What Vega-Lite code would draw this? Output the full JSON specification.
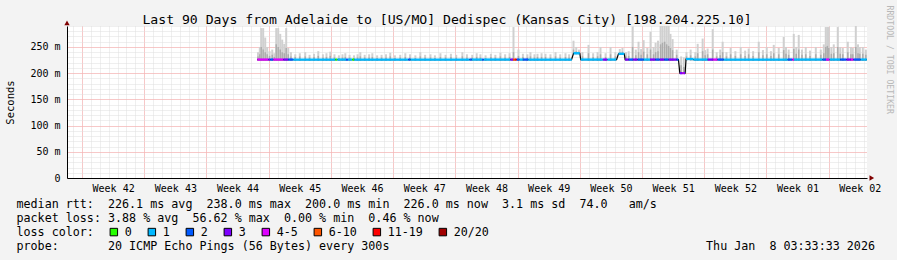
{
"$schema": "https://vega.github.io/schema/vega-lite/v6.json",
"width": 800, "height": 152,
"autosize": {"type": "none"},
"padding": {"left": 67, "top": 26, "right": 30, "bottom": 82},
"background": "#f3f3f3",
"config": {
  "view": {"fill": "#ffffff", "stroke": null},
  "font": "DejaVu Sans Mono",
  "scale": {"continuousPadding": 0},
  "axis": {"labelFont": "DejaVu Sans Mono", "titleFont": "DejaVu Sans Mono", "labelColor": "#000000", "titleColor": "#000000", "titleFontWeight": "normal"}
},
"title": {"text": "Last 90 Days from Adelaide to [US/MO] Dedispec (Kansas City) [198.204.225.10]", "font": "DejaVu Sans Mono", "fontSize": 13.15, "fontWeight": "normal", "color": "#000000", "anchor": "middle", "frame": "group", "dx": -20, "dy": 26, "offset": 4},
"resolve": {"axis": {"x": "independent", "y": "independent"}},
"datasets": {
  "smoke": [
    {"t":19.8,"lo":224,"hi":240,"m":232},{"t":20.0,"lo":224,"hi":250,"m":236},{"t":20.16,"lo":224,"hi":286,"m":250},{"t":20.38,"lo":224,"hi":286,"m":245},{"t":20.61,"lo":224,"hi":268,"m":240},{"t":20.83,"lo":224,"hi":250,"m":236},{"t":21.1,"lo":224,"hi":242,"m":233},{"t":21.4,"lo":224,"hi":245,"m":235},{"t":21.63,"lo":224,"hi":238,"m":231},{"t":21.85,"lo":224,"hi":286,"m":255},{"t":22.07,"lo":224,"hi":286,"m":250},{"t":22.3,"lo":224,"hi":275,"m":245},{"t":22.52,"lo":224,"hi":264,"m":240},{"t":22.75,"lo":224,"hi":256,"m":238},{"t":22.97,"lo":224,"hi":286,"m":248},{"t":23.2,"lo":224,"hi":248,"m":236},{"t":23.5,"lo":224,"hi":240,"m":232},{"t":23.99,"lo":224,"hi":236,"m":231},{"t":24.5,"lo":224,"hi":238,"m":232},{"t":25.11,"lo":224,"hi":240,"m":232},{"t":25.6,"lo":224,"hi":235,"m":230},{"t":26.1,"lo":224,"hi":237,"m":231},{"t":26.58,"lo":224,"hi":242,"m":233},{"t":27.1,"lo":224,"hi":236,"m":230},{"t":27.5,"lo":224,"hi":238,"m":231},{"t":27.93,"lo":224,"hi":241,"m":233},{"t":28.4,"lo":224,"hi":236,"m":230},{"t":28.9,"lo":224,"hi":234,"m":229},{"t":29.3,"lo":224,"hi":236,"m":230},{"t":29.62,"lo":224,"hi":238,"m":231},{"t":30.1,"lo":224,"hi":235,"m":230},{"t":30.6,"lo":224,"hi":234,"m":229},{"t":31.0,"lo":224,"hi":236,"m":230},{"t":31.31,"lo":224,"hi":240,"m":232},{"t":31.8,"lo":224,"hi":235,"m":230},{"t":32.3,"lo":224,"hi":236,"m":230},{"t":32.66,"lo":224,"hi":238,"m":231},{"t":33.2,"lo":224,"hi":234,"m":229},{"t":33.7,"lo":224,"hi":235,"m":230},{"t":34.2,"lo":224,"hi":236,"m":230},{"t":34.68,"lo":224,"hi":239,"m":232},{"t":35.2,"lo":224,"hi":234,"m":229},{"t":35.8,"lo":224,"hi":235,"m":230},{"t":36.37,"lo":224,"hi":238,"m":231},{"t":36.9,"lo":224,"hi":236,"m":230},{"t":37.5,"lo":224,"hi":234,"m":229},{"t":38.06,"lo":224,"hi":240,"m":232},{"t":38.6,"lo":224,"hi":235,"m":230},{"t":39.2,"lo":224,"hi":236,"m":230},{"t":39.7,"lo":224,"hi":234,"m":229},{"t":40.32,"lo":224,"hi":238,"m":231},{"t":40.9,"lo":224,"hi":235,"m":230},{"t":41.5,"lo":224,"hi":237,"m":231},{"t":42.1,"lo":224,"hi":235,"m":230},{"t":42.79,"lo":224,"hi":240,"m":232},{"t":43.3,"lo":224,"hi":236,"m":230},{"t":43.9,"lo":224,"hi":235,"m":230},{"t":44.4,"lo":224,"hi":238,"m":231},{"t":44.82,"lo":224,"hi":236,"m":230},{"t":45.4,"lo":224,"hi":234,"m":229},{"t":46.0,"lo":224,"hi":237,"m":231},{"t":46.5,"lo":224,"hi":235,"m":230},{"t":47.07,"lo":224,"hi":239,"m":232},{"t":47.6,"lo":224,"hi":236,"m":230},{"t":48.1,"lo":224,"hi":238,"m":231},{"t":48.54,"lo":224,"hi":288,"m":240},{"t":49.1,"lo":224,"hi":245,"m":233},{"t":49.6,"lo":224,"hi":237,"m":231},{"t":50.1,"lo":224,"hi":236,"m":230},{"t":50.45,"lo":224,"hi":240,"m":232},{"t":50.9,"lo":224,"hi":236,"m":230},{"t":51.24,"lo":224,"hi":237,"m":231},{"t":51.7,"lo":224,"hi":238,"m":231},{"t":52.14,"lo":224,"hi":237,"m":231},{"t":52.7,"lo":224,"hi":236,"m":230},{"t":53.27,"lo":224,"hi":240,"m":232},{"t":53.8,"lo":224,"hi":236,"m":230},{"t":54.39,"lo":224,"hi":238,"m":231},{"t":54.8,"lo":224,"hi":236,"m":230},{"t":55.29,"lo":236,"hi":262,"m":245},{"t":55.6,"lo":236,"hi":250,"m":242},{"t":55.9,"lo":236,"hi":245,"m":241},{"t":56.3,"lo":224,"hi":240,"m":232},{"t":56.98,"lo":224,"hi":254,"m":238},{"t":57.5,"lo":224,"hi":238,"m":231},{"t":58.0,"lo":224,"hi":240,"m":232},{"t":58.33,"lo":224,"hi":250,"m":236},{"t":58.9,"lo":224,"hi":238,"m":231},{"t":59.46,"lo":224,"hi":250,"m":236},{"t":60.0,"lo":224,"hi":240,"m":232},{"t":60.5,"lo":235,"hi":246,"m":240},{"t":60.8,"lo":235,"hi":248,"m":241},{"t":61.2,"lo":224,"hi":240,"m":232},{"t":61.5,"lo":224,"hi":242,"m":233},{"t":61.94,"lo":224,"hi":289,"m":250},{"t":62.3,"lo":224,"hi":245,"m":234},{"t":62.61,"lo":224,"hi":260,"m":240},{"t":62.9,"lo":224,"hi":246,"m":235},{"t":63.18,"lo":224,"hi":263,"m":241},{"t":63.6,"lo":224,"hi":248,"m":236},{"t":63.96,"lo":224,"hi":279,"m":245},{"t":64.3,"lo":224,"hi":250,"m":236},{"t":64.53,"lo":224,"hi":258,"m":240},{"t":64.8,"lo":224,"hi":262,"m":242},{"t":65.09,"lo":224,"hi":290,"m":255},{"t":65.3,"lo":224,"hi":290,"m":258},{"t":65.54,"lo":224,"hi":290,"m":260},{"t":65.77,"lo":224,"hi":290,"m":255},{"t":65.99,"lo":224,"hi":290,"m":252},{"t":66.2,"lo":224,"hi":275,"m":248},{"t":66.44,"lo":224,"hi":265,"m":244},{"t":66.9,"lo":224,"hi":245,"m":235},{"t":67.4,"lo":200,"hi":232,"m":215},{"t":67.7,"lo":200,"hi":230,"m":212},{"t":68.0,"lo":224,"hi":240,"m":232},{"t":68.47,"lo":224,"hi":245,"m":234},{"t":69.0,"lo":224,"hi":240,"m":232},{"t":69.26,"lo":224,"hi":256,"m":238},{"t":69.82,"lo":224,"hi":266,"m":242},{"t":70.1,"lo":224,"hi":244,"m":234},{"t":70.38,"lo":224,"hi":247,"m":236},{"t":70.95,"lo":224,"hi":284,"m":245},{"t":71.4,"lo":224,"hi":240,"m":232},{"t":71.8,"lo":224,"hi":245,"m":234},{"t":72.07,"lo":224,"hi":260,"m":240},{"t":72.5,"lo":224,"hi":240,"m":232},{"t":72.97,"lo":224,"hi":248,"m":236},{"t":73.5,"lo":224,"hi":242,"m":233},{"t":74.1,"lo":224,"hi":250,"m":236},{"t":74.6,"lo":224,"hi":243,"m":233},{"t":75.0,"lo":224,"hi":247,"m":236},{"t":75.5,"lo":224,"hi":242,"m":233},{"t":76.13,"lo":224,"hi":260,"m":240},{"t":76.6,"lo":224,"hi":244,"m":234},{"t":77.03,"lo":224,"hi":250,"m":236},{"t":77.5,"lo":224,"hi":242,"m":233},{"t":77.82,"lo":224,"hi":254,"m":238},{"t":78.38,"lo":224,"hi":248,"m":236},{"t":78.94,"lo":224,"hi":269,"m":244},{"t":79.2,"lo":224,"hi":250,"m":237},{"t":79.5,"lo":224,"hi":245,"m":235},{"t":80.07,"lo":224,"hi":275,"m":246},{"t":80.35,"lo":224,"hi":250,"m":237},{"t":80.63,"lo":224,"hi":273,"m":245},{"t":81.0,"lo":224,"hi":245,"m":235},{"t":81.42,"lo":224,"hi":250,"m":236},{"t":81.9,"lo":224,"hi":243,"m":233},{"t":82.55,"lo":224,"hi":250,"m":236},{"t":83.11,"lo":224,"hi":245,"m":235},{"t":83.45,"lo":224,"hi":255,"m":238},{"t":83.67,"lo":224,"hi":288,"m":250},{"t":83.85,"lo":224,"hi":288,"m":252},{"t":84.01,"lo":224,"hi":288,"m":248},{"t":84.3,"lo":224,"hi":250,"m":237},{"t":84.57,"lo":224,"hi":255,"m":238},{"t":85.02,"lo":224,"hi":288,"m":250},{"t":85.3,"lo":224,"hi":250,"m":237},{"t":85.59,"lo":224,"hi":248,"m":236},{"t":86.15,"lo":224,"hi":260,"m":240},{"t":86.5,"lo":224,"hi":250,"m":236},{"t":86.71,"lo":224,"hi":248,"m":236},{"t":87.05,"lo":224,"hi":290,"m":250},{"t":87.3,"lo":224,"hi":255,"m":238},{"t":87.5,"lo":224,"hi":250,"m":237},{"t":87.84,"lo":224,"hi":250,"m":237},{"t":88.18,"lo":224,"hi":245,"m":235}
  ],
  "segs": [
    {"a":19.71,"b":20.95,"v":226,"l":"4-5"},{"a":20.95,"b":21.17,"v":226,"l":"3"},{"a":21.17,"b":21.51,"v":226,"l":"2"},{"a":21.51,"b":22.64,"v":226,"l":"4-5"},{"a":22.64,"b":23.2,"v":226,"l":"3"},{"a":23.2,"b":23.76,"v":226,"l":"2"},{"a":23.76,"b":28.5,"v":226,"l":"1"},{"a":28.5,"b":28.72,"v":226,"l":"0"},{"a":28.72,"b":29.7,"v":226,"l":"1"},{"a":29.7,"b":29.92,"v":226,"l":"2"},{"a":29.92,"b":30.4,"v":226,"l":"1"},{"a":30.4,"b":30.62,"v":226,"l":"0"},{"a":30.62,"b":36.7,"v":226,"l":"1"},{"a":36.7,"b":36.95,"v":226,"l":"2"},{"a":36.95,"b":43.6,"v":226,"l":"1"},{"a":43.6,"b":43.85,"v":226,"l":"2"},{"a":43.85,"b":45.0,"v":226,"l":"1"},{"a":45.0,"b":45.2,"v":226,"l":"2"},{"a":45.2,"b":48.2,"v":226,"l":"1"},{"a":48.2,"b":48.5,"v":226,"l":"3"},{"a":48.5,"b":48.7,"v":226,"l":"6-10"},{"a":48.7,"b":48.9,"v":226,"l":"11-19"},{"a":48.9,"b":49.2,"v":226,"l":"2"},{"a":49.2,"b":49.6,"v":226,"l":"1"},{"a":49.6,"b":50.2,"v":226,"l":"2"},{"a":50.2,"b":55.1,"v":226,"l":"1"},{"a":55.3,"b":56.0,"v":238,"l":"1"},{"a":56.1,"b":58.6,"v":226,"l":"1"},{"a":58.6,"b":59.1,"v":226,"l":"3"},{"a":59.1,"b":60.1,"v":226,"l":"1"},{"a":60.35,"b":61.0,"v":237,"l":"1"},{"a":61.1,"b":61.5,"v":226,"l":"3"},{"a":61.5,"b":62.0,"v":226,"l":"2"},{"a":62.0,"b":62.5,"v":226,"l":"3"},{"a":62.5,"b":63.2,"v":226,"l":"2"},{"a":63.2,"b":63.9,"v":226,"l":"1"},{"a":63.9,"b":64.5,"v":226,"l":"3"},{"a":64.5,"b":65.0,"v":226,"l":"2"},{"a":65.0,"b":65.5,"v":226,"l":"3"},{"a":65.5,"b":66.0,"v":226,"l":"2"},{"a":66.0,"b":66.9,"v":226,"l":"3"},{"a":66.9,"b":67.1,"v":226,"l":"2"},{"a":67.25,"b":67.55,"v":200,"l":"3"},{"a":67.55,"b":67.7,"v":200,"l":"4-5"},{"a":67.7,"b":67.85,"v":200,"l":"3"},{"a":67.95,"b":68.8,"v":227,"l":"1"},{"a":68.8,"b":70.4,"v":226,"l":"1"},{"a":70.4,"b":71.0,"v":226,"l":"3"},{"a":71.0,"b":71.5,"v":226,"l":"4-5"},{"a":71.5,"b":72.2,"v":226,"l":"2"},{"a":72.2,"b":79.4,"v":226,"l":"1"},{"a":79.4,"b":79.9,"v":226,"l":"2"},{"a":79.9,"b":80.1,"v":226,"l":"4-5"},{"a":80.1,"b":83.3,"v":226,"l":"1"},{"a":83.3,"b":83.7,"v":226,"l":"2"},{"a":83.7,"b":84.1,"v":226,"l":"4-5"},{"a":84.1,"b":85.3,"v":226,"l":"1"},{"a":85.3,"b":86.0,"v":226,"l":"2"},{"a":86.0,"b":86.5,"v":226,"l":"3"},{"a":86.5,"b":86.8,"v":226,"l":"4-5"},{"a":86.8,"b":87.6,"v":226,"l":"2"},{"a":87.6,"b":88.29,"v":226,"l":"1"}
  ],
  "medline": [
    {"t":19.71,"v":226},{"t":55.07,"v":226},{"t":55.3,"v":238},{"t":56.0,"v":238},{"t":56.1,"v":226},{"t":60.14,"v":226},{"t":60.35,"v":237},{"t":61.0,"v":237},{"t":61.1,"v":226},{"t":67.1,"v":226},{"t":67.25,"v":200},{"t":67.85,"v":200},{"t":67.95,"v":227},{"t":68.8,"v":226},{"t":88.29,"v":226}
  ],
  "arrows": [
    {"t":-1.69,"v":296,"s":"up"},{"t":88.85,"v":0,"s":"right"}
  ]
},
"layer": [
  {
    "data": {"name": "smoke"},
    "mark": {"type": "rule", "color": "#d0d0d0", "strokeWidth": 2},
    "encoding": {
      "x": {"field": "t", "type": "quantitative", "scale": {"domain": [-1.69, 88.31], "nice": false, "zero": false, "padding": 0},
            "axis": {"orient": "bottom", "tickCount": 90, "grid": true, "gridColor": "#dedede", "gridDash": [1, 1], "labels": false, "ticks": false, "domain": false, "title": null}},
      "y": {"field": "lo", "type": "quantitative", "scale": {"domain": [0, 290], "nice": false, "zero": true, "padding": 0},
            "axis": {"orient": "left", "tickCount": 29, "grid": true, "gridColor": "#dedede", "gridDash": [1, 1], "labels": false, "ticks": false, "domain": false, "title": null}},
      "y2": {"field": "hi"}
    }
  },
  {
    "data": {"name": "smoke"},
    "mark": {"type": "rule", "color": "#acacac", "strokeWidth": 1.5},
    "encoding": {
      "x": {"field": "t", "type": "quantitative", "axis": null},
      "y": {"field": "lo", "type": "quantitative", "axis": null},
      "y2": {"field": "m"}
    }
  },
  {
    "data": {"name": "medline"},
    "mark": {"type": "line", "color": "#000000", "strokeWidth": 1.2},
    "encoding": {
      "x": {"field": "t", "type": "quantitative",
            "axis": {"orient": "bottom", "values": [0, 7, 14, 21, 28, 35, 42, 49, 56, 63, 70, 77, 84], "grid": true, "gridColor": "#ffa0a0", "gridDash": [1, 1], "labels": false, "ticks": false, "domain": false, "title": null}},
      "y": {"field": "v", "type": "quantitative",
            "axis": {"orient": "left", "values": [0, 50, 100, 150, 200, 250], "labelExpr": "datum.value == 0 ? '0' : datum.value + ' m'", "grid": true, "gridColor": "#ffa0a0", "gridDash": [1, 1], "ticks": false, "domain": true, "domainColor": "#000000", "labelFontSize": 10, "labelPadding": 7, "title": "Seconds", "titleFontSize": 10.5, "titleAngle": -90, "titleX": -57, "titleY": 76, "titleAlign": "center", "titleBaseline": "middle"}}
    }
  },
  {
    "data": {"name": "segs"},
    "mark": {"type": "bar", "height": 2.3, "orient": "horizontal"},
    "encoding": {
      "x": {"field": "a", "type": "quantitative",
            "axis": {"orient": "bottom", "values": [3.5, 10.5, 17.5, 24.5, 31.5, 38.5, 45.5, 52.5, 59.5, 66.5, 73.5, 80.5, 87.5],
                     "labelExpr": "['Week 42','Week 43','Week 44','Week 45','Week 46','Week 47','Week 48','Week 49','Week 50','Week 51','Week 52','Week 01','Week 02'][floor(datum.value / 7)]",
                     "grid": false, "ticks": false, "domain": true, "domainColor": "#000000", "labelFontSize": 10, "labelPadding": 5, "labelOverlap": false, "labelFlush": false, "labelBound": false,
                     "title": [
                       "median rtt:\u00a0\u00a0226.1\u00a0ms\u00a0avg\u00a0\u00a0238.0\u00a0ms\u00a0max\u00a0\u00a0200.0\u00a0ms\u00a0min\u00a0\u00a0226.0\u00a0ms\u00a0now\u00a0\u00a03.1\u00a0ms\u00a0sd\u00a0\u00a074.0\u00a0\u00a0\u00a0am/s",
                       "packet loss: 3.88\u00a0%\u00a0avg\u00a0\u00a056.62\u00a0%\u00a0max\u00a0\u00a00.00\u00a0%\u00a0min\u00a0\u00a00.46\u00a0%\u00a0now",
                       "loss color:",
                       "probe:\u00a0\u00a0\u00a0\u00a0\u00a0\u00a0\u00a020\u00a0ICMP\u00a0Echo\u00a0Pings\u00a0(56\u00a0Bytes)\u00a0every\u00a0300s\u00a0\u00a0\u00a0\u00a0\u00a0\u00a0\u00a0\u00a0\u00a0\u00a0\u00a0\u00a0\u00a0\u00a0\u00a0\u00a0\u00a0\u00a0\u00a0\u00a0\u00a0\u00a0\u00a0\u00a0\u00a0\u00a0\u00a0\u00a0\u00a0\u00a0\u00a0\u00a0\u00a0\u00a0\u00a0\u00a0\u00a0\u00a0\u00a0\u00a0\u00a0\u00a0\u00a0\u00a0\u00a0Thu\u00a0Jan\u00a0\u00a08\u00a003:33:33\u00a02026"
                     ],
                     "titleFontSize": 11.7, "titleLineHeight": 14, "titleAnchor": "start", "titleAlign": "left", "titleBaseline": "top", "titleX": -51, "titleY": 20}},
      "x2": {"field": "b"},
      "y": {"field": "v", "type": "quantitative",
            "axis": {"orient": "right", "labels": false, "ticks": false, "domain": false, "grid": false, "title": "RRDTOOL / TOBI OETIKER", "titleColor": "#b8b8b8", "titleFontSize": 8.2, "titleAngle": 90, "titleX": 21.5, "titleY": -21, "titleAlign": "left", "titleBaseline": "middle"}},
      "color": {"field": "l", "type": "nominal",
                "scale": {"domain": ["0", "1", "2", "3", "4-5", "6-10", "11-19", "20/20"], "range": ["#26ff00", "#00b8ff", "#0059ff", "#7e00ff", "#dd00ff", "#ff5500", "#ff0000", "#a10000"]},
                "legend": {"orient": "none", "legendX": 41, "legendY": 200, "direction": "horizontal", "columns": 8, "title": null, "symbolType": "square", "symbolSize": 56, "symbolStrokeColor": "#000000", "symbolStrokeWidth": 1, "symbolOpacity": 1, "labelFont": "DejaVu Sans Mono", "labelFontSize": 11.7, "labelColor": "#000000", "labelOffset": 5, "columnPadding": 14, "padding": 0, "offset": 0}}
    }
  },
  {
    "data": {"name": "arrows"},
    "mark": {"type": "point", "filled": true, "color": "#800000", "size": 28, "opacity": 1},
    "encoding": {
      "x": {"field": "t", "type": "quantitative", "axis": null},
      "y": {"field": "v", "type": "quantitative", "axis": null},
      "shape": {"field": "s", "type": "nominal", "scale": {"domain": ["up", "right"], "range": ["triangle-up", "triangle-right"]}, "legend": null}
    }
  }
]
}
